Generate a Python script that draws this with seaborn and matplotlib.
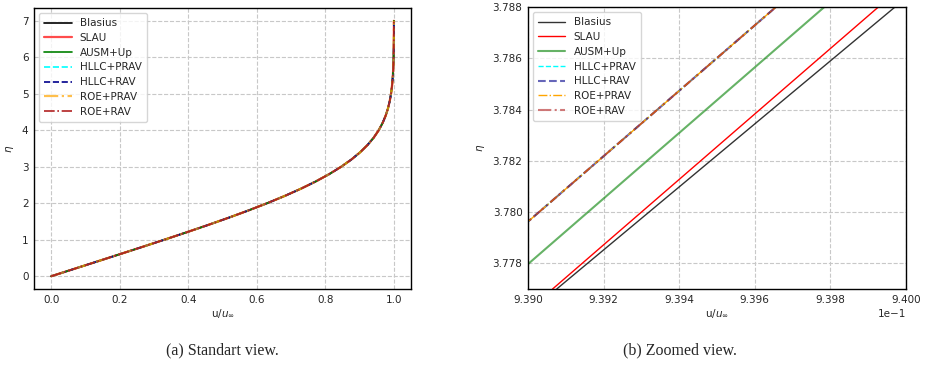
import numpy as np
import pandas as pd
import matplotlib
matplotlib.use("Agg")
import matplotlib.pyplot as plt
import seaborn as sns

# ---- data ----
series = ["Blasius", "SLAU", "AUSM+Up", "HLLC+PRAV", "HLLC+RAV", "ROE+PRAV", "ROE+RAV"]
colors = ["black", "red", "green", "cyan", "darkblue", "orange", "firebrick"]
styles = ["-", "-", "-", "--", "--", "-.", "-."]

# full profile (all schemes coincide at this scale)
eta_full = [0.0, 0.2, 0.4, 0.6, 0.8, 1.0, 1.2, 1.4, 1.6, 1.8, 2.0, 2.2, 2.4, 2.6, 2.8,
            3.0, 3.2, 3.4, 3.6, 3.8, 4.0, 4.2, 4.4, 4.6, 4.8, 5.0, 5.2, 5.4, 5.6, 5.8,
            6.0, 6.2, 6.4, 6.6, 6.8, 7.0]
u_full = [0.0, 0.06641, 0.13277, 0.19894, 0.26471, 0.32979, 0.39378, 0.45627, 0.51676,
          0.57477, 0.62977, 0.68132, 0.72899, 0.77246, 0.81152, 0.84605, 0.87609, 0.90177,
          0.92333, 0.94112, 0.95552, 0.96696, 0.97587, 0.98269, 0.98779, 0.99155, 0.99425,
          0.99616, 0.99748, 0.99838, 0.99898, 0.99937, 0.99961, 0.99977, 0.99987, 0.99992]

# zoomed segment (eta at the two ends, u per scheme)
eta_zoom = [3.7770, 3.7880]
u_zoom_blasius = [0.939076, 0.939971]
u_zoom_slau = [0.939065, 0.939927]
u_zoom_ausm = [0.938924, 0.939784]
u_zoom_hllc_prav = [0.938794, 0.939656]
u_zoom_hllc_rav = [0.938794, 0.939656]
u_zoom_roe_prav = [0.938794, 0.939656]
u_zoom_roe_rav = [0.938794, 0.939656]
u_zoom = [u_zoom_blasius, u_zoom_slau, u_zoom_ausm, u_zoom_hllc_prav,
          u_zoom_hllc_rav, u_zoom_roe_prav, u_zoom_roe_rav]

sns.set_style("whitegrid", {"grid.linestyle": "--", "grid.color": "#c8c8c8",
                            "axes.edgecolor": "black"})
plt.rcParams["font.family"] = ["DejaVu Sans"]
fs = 7.5

fig = plt.figure(figsize=(9.25, 3.78), dpi=100)
ax1 = fig.add_axes([0.0368, 0.2354, 0.4076, 0.7434])
ax2 = fig.add_axes([0.5708, 0.2354, 0.4086, 0.7460])

lw1 = [1.2, 1.6, 1.2, 1.2, 1.2, 1.6, 1.2]
al1 = [1.0, 0.7, 1.0, 1.0, 1.0, 0.7, 1.0]
for i, name in enumerate(series):
    df = pd.DataFrame({"u": u_full, "eta": eta_full})
    sns.lineplot(data=df, x="u", y="eta", ax=ax1, sort=False, estimator=None,
                 color=colors[i], linestyle=styles[i], linewidth=lw1[i], alpha=al1[i],
                 label=name)

lw2 = [1.0, 1.0, 1.5, 1.0, 1.5, 1.0, 1.5]
al2 = [0.8, 1.0, 0.6, 1.0, 0.6, 1.0, 0.6]
for i, name in enumerate(series):
    df = pd.DataFrame({"u": u_zoom[i], "eta": eta_zoom})
    sns.lineplot(data=df, x="u", y="eta", ax=ax2, sort=False, estimator=None,
                 color=colors[i], linestyle=styles[i], linewidth=lw2[i], alpha=al2[i],
                 label=name)

ax1.set_xlim(-0.05, 1.05)
ax1.set_ylim(-0.35, 7.35)
ax1.set_xticks([0.0, 0.2, 0.4, 0.6, 0.8, 1.0])
ax1.set_yticks(range(0, 8))

ax2.set_xlim(0.9390, 0.9400)
ax2.set_ylim(3.777, 3.788)
ax2.set_xticks([0.9390, 0.9392, 0.9394, 0.9396, 0.9398, 0.9400])
ax2.set_yticks([3.778, 3.780, 3.782, 3.784, 3.786, 3.788])
ax2.ticklabel_format(axis="x", style="sci", scilimits=(0, 0), useOffset=False)
ax2.yaxis.set_major_formatter(matplotlib.ticker.FormatStrFormatter("%.3f"))
ax2.xaxis.get_offset_text().set_fontsize(fs)

for ax in (ax1, ax2):
    ax.set_xlabel(r"u/$u_{\infty}$", fontsize=fs, labelpad=2)
    ax.set_ylabel(r"$\eta$", fontsize=fs, labelpad=4)
    ax.tick_params(labelsize=fs, length=2, pad=2)
    for s in ax.spines.values():
        s.set_color("black")
        s.set_linewidth(1.0)
    leg = ax.legend(loc="upper left", fontsize=fs, frameon=True, handlelength=2.6,
                    labelspacing=0.45, borderpad=0.5)
    leg.get_frame().set_edgecolor("#cccccc")

fig.text(0.240, 0.074, "(a) Standart view.", ha="center", va="center",
         fontsize=11.5, family="Liberation Serif")
fig.text(0.735, 0.074, "(b) Zoomed view.", ha="center", va="center",
         fontsize=11.5, family="Liberation Serif")

fig.savefig("out.png", dpi=100)
